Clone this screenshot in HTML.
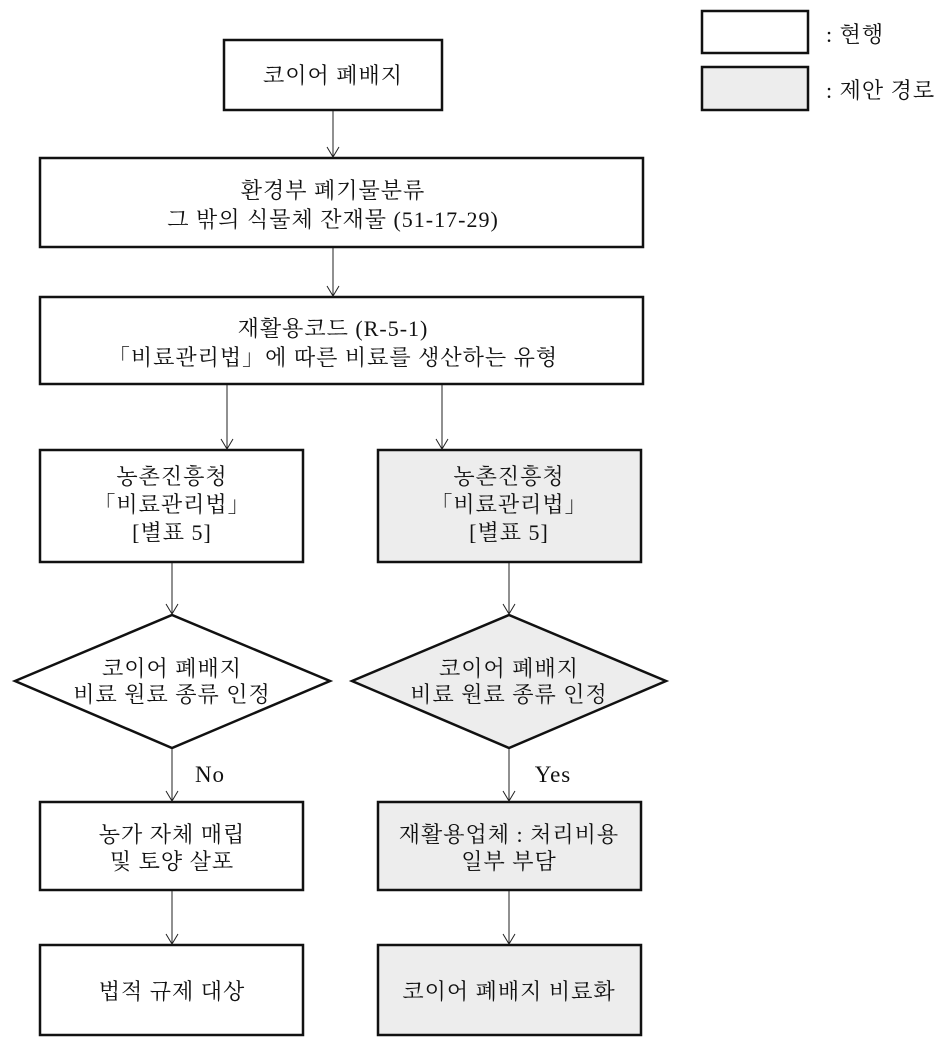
<!DOCTYPE html>
<html><head><meta charset="utf-8"><style>
body{margin:0;background:#fff}
svg text{font-family:"Liberation Serif","Noto Serif CJK SC","Noto Sans CJK KR",serif;font-size:22px;fill:#111;text-anchor:middle;letter-spacing:1px}
</style></head><body>
<svg width="945" height="1042" viewBox="0 0 945 1042" xmlns="http://www.w3.org/2000/svg">
<defs><marker id="a" markerWidth="14" markerHeight="14" refX="11" refY="7" orient="auto" markerUnits="userSpaceOnUse"><path d="M1,1 L11,7 L1,13" fill="none" stroke="#222" stroke-width="1"/></marker></defs>
<g stroke="#111" stroke-width="2.5">
<rect x="224" y="40" width="218" height="70" fill="#fff"/>
<rect x="40" y="158" width="603" height="89" fill="#fff"/>
<rect x="40" y="297" width="603" height="87" fill="#fff"/>
<rect x="702" y="11" width="106" height="42" fill="#fff"/>
<rect x="702" y="67" width="106" height="43" fill="#ededed"/>
<rect x="40" y="450" width="263" height="112" fill="#fff"/>
<rect x="378" y="450" width="263" height="112" fill="#ededed"/>
<polygon points="15,681 172,615 330,681 172,748" fill="#fff"/>
<polygon points="352,681 509,615 666,681 509,748" fill="#ededed"/>
<rect x="40" y="802" width="263" height="88" fill="#fff"/>
<rect x="378" y="802" width="263" height="88" fill="#ededed"/>
<rect x="40" y="945" width="263" height="90" fill="#fff"/>
<rect x="378" y="945" width="263" height="90" fill="#ededed"/>
</g>
<g stroke="#222" stroke-width="1" marker-end="url(#a)">
<line x1="333" y1="111" x2="333" y2="157"/>
<line x1="333" y1="248" x2="333" y2="296"/>
<line x1="227" y1="385" x2="227" y2="449"/>
<line x1="442" y1="385" x2="442" y2="449"/>
<line x1="172" y1="563" x2="172" y2="614"/>
<line x1="509" y1="563" x2="509" y2="614"/>
<line x1="172" y1="749" x2="172" y2="801"/>
<line x1="509" y1="749" x2="509" y2="801"/>
<line x1="172" y1="891" x2="172" y2="944"/>
<line x1="509" y1="891" x2="509" y2="944"/>
</g>
<text x="333" y="83">코이어 폐배지</text>
<text x="333" y="198">환경부 폐기물분류</text>
<text x="333" y="227">그 밖의 식물체 잔재물 (51-17-29)</text>
<text x="333" y="336">재활용코드 (R-5-1)</text>
<text x="333" y="365">「비료관리법」에 따른 비료를 생산하는 유형</text>
<text x="172" y="484">농촌진흥청</text>
<text x="172" y="512">「비료관리법」</text>
<text x="172" y="540">[별표 5]</text>
<text x="509" y="484">농촌진흥청</text>
<text x="509" y="512">「비료관리법」</text>
<text x="509" y="540">[별표 5]</text>
<text x="172" y="676">코이어 폐배지</text>
<text x="172" y="702">비료 원료 종류 인정</text>
<text x="509" y="676">코이어 폐배지</text>
<text x="509" y="702">비료 원료 종류 인정</text>
<text x="210" y="782" style="font-size:23px">No</text>
<text x="553" y="782" style="font-size:23px">Yes</text>
<text x="172" y="842">농가 자체 매립</text>
<text x="172" y="869">및 토양 살포</text>
<text x="509" y="842">재활용업체 : 처리비용</text>
<text x="509" y="869">일부 부담</text>
<text x="172" y="999">법적 규제 대상</text>
<text x="509" y="999">코이어 폐배지 비료화</text>
<text x="826" y="42" style="text-anchor:start">: 현행</text>
<text x="826" y="98" style="text-anchor:start">: 제안 경로</text>
</svg>
</body></html>
